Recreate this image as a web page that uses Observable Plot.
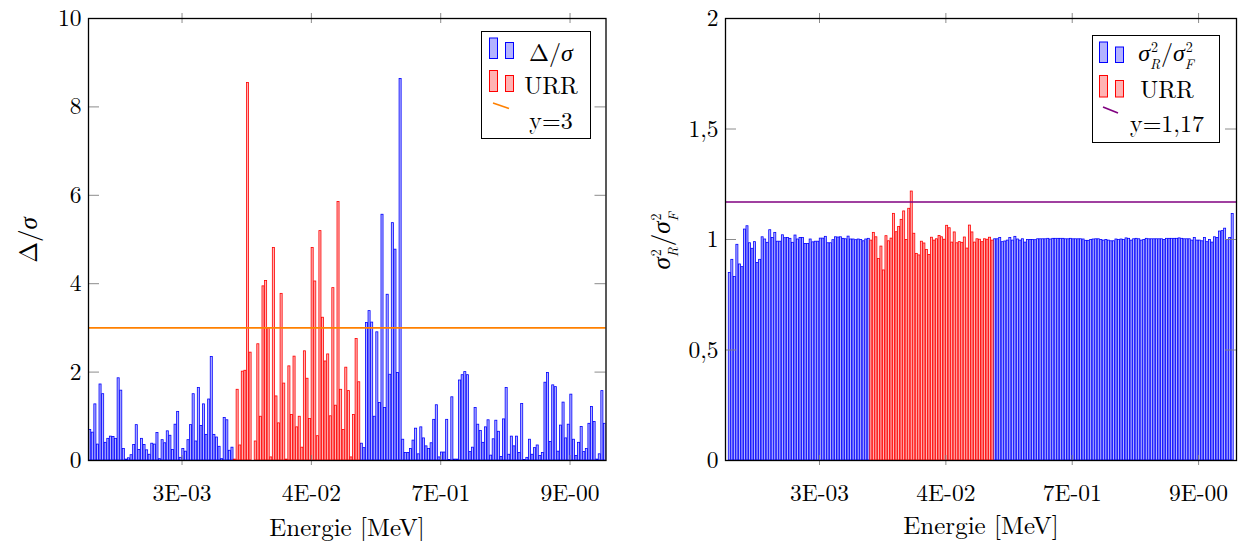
<!DOCTYPE html>
<html><head><meta charset="utf-8">
<script src="https://cdn.jsdelivr.net/npm/d3@7"></script>
<script src="https://cdn.jsdelivr.net/npm/@observablehq/plot@0.6"></script>
<style>
body{margin:0;background:#fff;}
#wrap{position:relative;width:1242px;height:541px;overflow:hidden;font-family:"Latin Modern Roman","Liberation Serif",serif;color:#000;background:#fff;}
.pane{position:absolute;top:0;}
.lbl{position:absolute;font-size:24px;white-space:nowrap;line-height:1;}
.gk{font-family:"Liberation Serif",serif;font-style:italic;}
.legend{position:absolute;border:1px solid #000;background:#fff;box-sizing:border-box;}
.ss{position:relative;display:inline-block;height:0;width:11px;vertical-align:baseline;font-size:14px;line-height:14px;}
.ss .sp{position:absolute;left:1px;bottom:8px;}
.ss .sb{position:absolute;left:0;top:-5px;font-style:italic;}
svg.ov{position:absolute;left:0;top:0;}
</style></head><body>
<div id="wrap"></div>
<script>
// ---------- data ----------
const xTickPos = [35.5, 85.5, 135.5, 185.5];
const xTickLabels = ["3E-03", "4E-02", "7E-01", "9E-00"];
const urrStart = 56, urrEnd = 104;   // bar indices belonging to the URR range
const yTicksLeft = [0, 2, 4, 6, 8, 10];
const yTicksRight = [0, 0.5, 1, 1.5, 2];
const yTickLabelsRight = ["0", "0,5", "1", "1,5", "2"];
const refLineLeft = 3;
const refLineRight = 1.17;

// Delta/sigma per energy bin (left chart)
const deltaValues = [
  0.69,0.63,1.27,0.36,1.72,1.5,0.4,0.49,0.54,0.53,
  0.49,1.86,1.58,0.26,0.02,0.05,0.12,0.35,0.8,0.24,
  0.49,0.35,0.23,0.13,0.38,0.36,0.62,0.03,0.46,0.39,
  0.66,0.56,0.24,0.81,1.1,0.06,0.26,0.2,0.46,0.8,
  1.5,0.43,1.64,0.78,1.27,0.58,1.38,2.34,0.58,0.52,
  0.31,0.03,0.96,0.91,0.22,0.29,
  // URR
  0.02,1.6,0.34,2.01,2.03,8.54,2.44,0,0.43,2.63,
  0.99,3.94,4.06,2.99,0.07,4.81,1.45,0.84,3.77,1.74,
  0.02,2.13,1.03,2.35,0.75,0.99,0.29,2.47,1.85,0.94,
  4.81,4.05,0.55,5.19,3.23,2.24,2.4,1.0,3.9,1.24,
  5.85,1.6,0.69,2.1,1.57,0.07,1.03,2.75,1.77,
  // after URR
  0.38,0.28,3.11,3.38,3.12,0.99,2.9,1.3,5.56,1.19,
  3.75,1.94,5.37,4.77,1.98,8.63,0.47,0.17,0.17,0.26,
  0.45,0.72,0.14,0.75,0.5,0.32,0.26,0.39,0.92,1.25,
  0.07,0.18,0.18,0.92,0.01,1.43,0.02,0.02,1.81,1.93,
  2.0,1.93,0.19,0.29,
  1.19,0.81,0.67,0.4,0.75,0.91,0.11,0.48,0.9,0.65,
  0.08,0.93,1.64,0.13,0.54,0.32,0.54,0.17,1.28,0.01,
  0.06,0.47,0.13,0.28,0.34,0.1,0.17,1.76,1.98,0.42,
  1.7,1.66,0.2,0.79,1.31,0.5,0.81,1.49,0.47,0.1,
  0.4,0.76,0.19,0.26,0.83,1.21,0.87,0.02,0.14,1.57,0.83
];

// sigma_R^2 / sigma_F^2 per energy bin (right chart)
const ratioValues = [
  0.848,0.908,0.83,0.976,0.887,0.875,1.045,1.06,0.983,0.958,
  0.988,0.894,0.908,1.01,1.0,0.985,1.042,1.007,1.03,0.99,
  0.99,1.019,1.006,1.007,1.003,0.985,1.018,1.0,1.007,1.007,
  0.98,0.98,1.0,0.987,0.99,0.99,1.004,1.004,1.012,0.983,
  0.983,0.997,1.01,1.009,1.01,1.003,1.001,1.013,1.0,1.0,
  0.997,1.0,0.998,0.992,1.0,1.003,
  // URR
  0.995,1.03,1.01,0.912,0.968,0.86,1.015,0.992,1.004,1.116,
  1.033,1.057,1.089,1.127,0.998,1.139,1.217,1.026,0.935,0.928,
  0.99,0.982,0.953,0.93,1.008,0.995,1.001,1.016,1.01,0.999,
  1.062,1.051,0.986,1.032,0.983,0.988,0.985,1.009,0.959,1.063,
  1.032,0.986,1.001,0.999,0.988,1.001,0.999,1.008,0.995,
  // after URR
  1.001,1.001,1.007,0.988,0.991,0.995,1.007,0.995,1.012,1.0,
  0.995,1.001,0.986,0.998,0.998,0.998,0.997,1.001,1.001,1.001,
  1.001,1.003,1.0,1.003,1.003,1.003,1.003,1.003,1.001,1.001,
  1.003,1.001,1.001,1.001,1.001,1.0,0.994,0.994,0.998,1.0,
  1.001,1.001,
  0.998,0.995,0.998,0.995,0.992,0.992,1.0,0.998,1.0,0.998,
  1.005,1.003,0.995,1.001,1.003,1.001,0.995,0.998,1.003,1.001,
  1.001,1.001,1.001,1.001,1.001,0.998,1.003,1.003,1.003,1.003,
  1.003,1.005,1.003,1.001,1.001,1.001,0.995,1.007,0.995,0.995,
  0.992,1.007,0.988,0.998,0.986,1.01,1.007,1.036,1.038,1.049,
  0.998,1.007,1.115
];

// ---------- styles ----------
const BLUE_FILL = "#b3b3ff", BLUE = "#0000ff";
const RED_FILL = "#ffb3b3", RED = "#ff0000";
const ORANGE = "#ff8000", PURPLE = "#800080";
const TICK = "#7f7f7f";
const FONT = '"Latin Modern Roman","Liberation Serif",serif';

const wrap = document.getElementById("wrap");
const isUrr = i => i >= urrStart && i <= urrEnd;

function panel({values, xDomain, yDomain, yTicks, yFmt, refY, refColor, width, mL, mR, mT, mB}) {
  const H = 541 - mT - mB;
  const W = width - mL - mR;
  const idx = d3.range(values.length);
  const bars = (filt, fill, stroke) => Plot.rect(idx.filter(filt), {
    x1: i => i - 0.4, x2: i => i + 0.4, y1: () => 0, y2: i => values[i],
    fill, stroke, strokeWidth: 0.8, clip: true
  });
  return Plot.plot({
    width, height: 541,
    marginLeft: mL, marginRight: mR, marginTop: mT, marginBottom: mB,
    x: {domain: xDomain, axis: null},
    y: {domain: yDomain, axis: null},
    style: {fontFamily: FONT, fontSize: "23.5px", background: "transparent", color: "#000", overflow: "visible"},
    marks: [
      bars(i => !isUrr(i), BLUE_FILL, BLUE),
      bars(isUrr, RED_FILL, RED),
      Plot.ruleY([refY], {stroke: refColor, strokeWidth: 1.6}),
      Plot.tickX(xTickPos, {x: d => d, stroke: TICK, strokeWidth: 0.9, insetTop: H - 5, insetBottom: -5}),
      Plot.tickX(xTickPos, {x: d => d, stroke: TICK, strokeWidth: 0.9, insetTop: -5, insetBottom: H - 5}),
      Plot.tickY(yTicks, {y: d => d, stroke: TICK, strokeWidth: 0.9, insetRight: W - 11}),
      Plot.tickY(yTicks, {y: d => d, stroke: TICK, strokeWidth: 0.9, insetLeft: W - 11}),
      Plot.frame({stroke: "#000", strokeWidth: 1.3}),
      Plot.axisX({ticks: xTickPos, tickFormat: d => xTickLabels[xTickPos.indexOf(d)], tickSize: 0, tickPadding: 24, label: null, fontSize: 23.5}),
      Plot.axisY({ticks: yTicks, tickFormat: yFmt, tickSize: 0, tickPadding: 7, label: null, fontSize: 23.5})
    ]
  });
}

const left = panel({
  values: deltaValues, xDomain: [-0.66, 199.4], yDomain: [0, 10],
  yTicks: yTicksLeft, yFmt: d => String(d), refY: refLineLeft, refColor: ORANGE,
  width: 621, mL: 88, mR: 15.5, mT: 18, mB: 81
});
left.classList.add("pane"); left.style.left = "0px";
wrap.appendChild(left);

const right = panel({
  values: ratioValues, xDomain: [-1.7, 200.5], yDomain: [0, 2],
  yTicks: yTicksRight, yFmt: d => yTickLabelsRight[yTicksRight.indexOf(d)], refY: refLineRight, refColor: PURPLE,
  width: 621, mL: 104, mR: 6, mT: 18, mB: 81
});
right.classList.add("pane"); right.style.left = "621px";
wrap.appendChild(right);

// ---------- axis labels ----------
function addLabel(html, x, y, rotate, size) {
  const d = document.createElement("div");
  d.className = "lbl";
  d.innerHTML = html;
  d.style.left = x + "px"; d.style.top = y + "px";
  if (size) d.style.fontSize = size + "px";
  d.style.transform = rotate ? "translate(-50%,-50%) rotate(-90deg)" : "translate(-50%,-50%)";
  wrap.appendChild(d);
  return d;
}
const sig = '<span class="gk">σ</span>';
const sigR = sig + '<span class="ss"><span class="sp">2</span><span class="sb">R</span></span>';
const sigF = sig + '<span class="ss"><span class="sp">2</span><span class="sb">F</span></span>';
addLabel("Energie [MeV]", 347, 525, false, 25);
addLabel("Energie [MeV]", 981, 523, false, 25);
addLabel("Δ/" + sig, 27, 240, true, 25);
addLabel(sigR + "/" + sigF, 660, 240, true, 25);

// ---------- legends ----------
function legend(box, items, textCx) {
  const lg = document.createElement("div");
  lg.className = "legend";
  Object.assign(lg.style, {left: box[0] + "px", top: box[1] + "px", width: (box[2] - box[0]) + "px", height: (box[3] - box[1]) + "px"});
  wrap.appendChild(lg);
  items.forEach(it => {
    const t = document.createElement("div");
    t.className = "lbl";
    t.innerHTML = it.html;
    t.style.left = textCx + "px";
    t.style.top = (it.base - 21) + "px";
    t.style.transform = "translateX(-50%)";
    wrap.appendChild(t);
  });
}
const ov = d3.select(wrap).append("svg").attr("class", "ov").attr("width", 1242).attr("height", 541);
function barIcon(x, top1, top2, bottom, fill, stroke) {
  ov.append("rect").attr("x", x).attr("y", top1).attr("width", 8).attr("height", bottom - top1).attr("fill", fill).attr("stroke", stroke).attr("stroke-width", 1);
  ov.append("rect").attr("x", x + 16).attr("y", top2).attr("width", 8).attr("height", bottom - top2).attr("fill", fill).attr("stroke", stroke).attr("stroke-width", 1);
}
legend([481, 31, 591, 139], [
  {html: "Δ/" + sig, base: 60},
  {html: "URR", base: 93},
  {html: "y=3", base: 128}
], 551);
legend([1092, 35, 1220, 143], [
  {html: sigR + "/" + sigF, base: 60},
  {html: "URR", base: 97},
  {html: "y=1,17", base: 131}
], 1167);
ov.raise();
barIcon(489.5, 38, 42.5, 58.5, BLUE_FILL, BLUE);
barIcon(489.5, 70.5, 75.5, 91.5, RED_FILL, RED);
ov.append("line").attr("x1", 493).attr("y1", 103).attr("x2", 509).attr("y2", 108.5).attr("stroke", ORANGE).attr("stroke-width", 1.6);
barIcon(1099.5, 42, 47, 62.5, BLUE_FILL, BLUE);
barIcon(1099.5, 75.5, 80.5, 97, RED_FILL, RED);
ov.append("line").attr("x1", 1103).attr("y1", 107).attr("x2", 1118).attr("y2", 113).attr("stroke", PURPLE).attr("stroke-width", 1.6);
</script>
</body></html>
